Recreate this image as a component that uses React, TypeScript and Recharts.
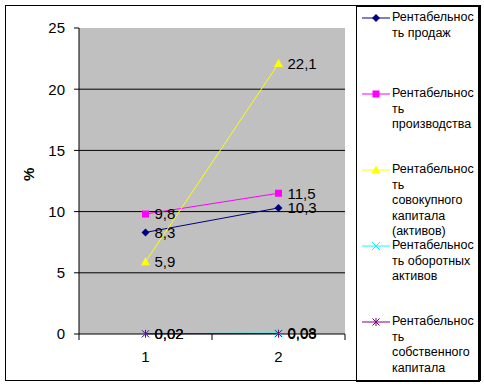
import { LineChart, Line, XAxis, YAxis, ReferenceLine, ReferenceArea, LabelList } from 'recharts';

const periods = [1, 2];
const salesProfit = [8.3, 10.3];
const productionProfit = [9.8, 11.5];
const totalCapitalProfit = [5.9, 22.1];
const currentAssetsProfit = [0.02, 0.08];
const equityProfit = [0.02, 0.03];
const yTicks = [0, 5, 10, 15, 20, 25];
const gridValues = [5, 10, 15, 20];

const FONT = '"Liberation Sans", Arial, sans-serif';

const data = periods.map((p, i) => ({
  period: p,
  sales: salesProfit[i],
  production: productionProfit[i],
  capital: totalCapitalProfit[i],
  current: currentAssetsProfit[i],
  equity: equityProfit[i],
}));

type Marker = 'diamond' | 'square' | 'triangle' | 'x' | 'star';

const SERIES: { key: string; color: string; marker: Marker; lines: string[] }[] = [
  { key: 'sales', color: '#000080', marker: 'diamond', lines: ['Рентабельнос', 'ть продаж'] },
  { key: 'production', color: '#ff00ff', marker: 'square', lines: ['Рентабельнос', 'ть', 'производства'] },
  { key: 'capital', color: '#ffff00', marker: 'triangle', lines: ['Рентабельнос', 'ть', 'совокупного', 'капитала', '(активов)'] },
  { key: 'current', color: '#00ffff', marker: 'x', lines: ['Рентабельнос', 'ть оборотных', 'активов'] },
  { key: 'equity', color: '#800080', marker: 'star', lines: ['Рентабельнос', 'ть', 'собственного', 'капитала'] },
];

function markerShape(m: Marker, cx: number, cy: number, color: string) {
  switch (m) {
    case 'diamond':
      return <polygon points={`${cx},${cy - 4} ${cx + 4},${cy} ${cx},${cy + 4} ${cx - 4},${cy}`} fill={color} />;
    case 'square':
      return <rect x={cx - 3.5} y={cy - 3.5} width={7} height={7} fill={color} />;
    case 'triangle':
      return <polygon points={`${cx},${cy - 4.5} ${cx + 4.5},${cy + 3.5} ${cx - 4.5},${cy + 3.5}`} fill={color} />;
    case 'x':
      return (
        <g stroke={color} strokeWidth={1}>
          <line x1={cx - 4} y1={cy - 4} x2={cx + 4} y2={cy + 4} />
          <line x1={cx - 4} y1={cy + 4} x2={cx + 4} y2={cy - 4} />
        </g>
      );
    default:
      return (
        <g stroke={color} strokeWidth={1}>
          <line x1={cx - 3.5} y1={cy - 3.5} x2={cx + 3.5} y2={cy + 3.5} />
          <line x1={cx - 3.5} y1={cy + 3.5} x2={cx + 3.5} y2={cy - 3.5} />
          <line x1={cx} y1={cy - 4} x2={cx} y2={cy + 4} />
        </g>
      );
  }
}

const fmt = (v: unknown) => String(v).replace('.', ',');

function XTick(props: any) {
  const { x, y, payload } = props;
  if (Number.isInteger(payload.value)) {
    return (
      <text x={x} y={y + 20} textAnchor="middle" fontSize={15} fontFamily={FONT} fill="#000">
        {payload.value}
      </text>
    );
  }
  return <line x1={x} y1={y - 8} x2={x} y2={y - 2} stroke="#000" />;
}

function LegendBox() {
  return (
    <div
      style={{
        position: 'absolute', left: 356, top: 6, width: 121, height: 373,
        border: '1px solid #000', borderRightWidth: 2, borderBottomWidth: 2, background: '#fff',
        fontFamily: FONT, fontSize: 12.5, color: '#000',
      }}
    >
      {SERIES.map((s, i) => (
        <div key={s.key} style={{ position: 'absolute', left: 0, top: 3 + i * 76, width: 121 }}>
          <svg width={30} height={16} style={{ position: 'absolute', left: 5, top: 0 }}>
            <line x1={0} y1={8} x2={28} y2={8} stroke={s.color} />
            {markerShape(s.marker, 14, 8, s.color)}
          </svg>
          <div style={{ position: 'absolute', left: 35, top: 0, lineHeight: '15.5px', whiteSpace: 'nowrap' }}>
            {s.lines.map((l, j) => (
              <div key={j}>{l}</div>
            ))}
          </div>
        </div>
      ))}
    </div>
  );
}

export default function App() {
  return (
    <div style={{ position: 'absolute', left: 0, top: 0, width: 484, height: 386, background: '#fff' }}>
      <div style={{ position: 'absolute', left: 5, top: 5, width: 474, height: 374, border: '1px solid #000' }} />
      <div style={{ position: 'absolute', left: 0, top: 0 }}>
        <LineChart width={484} height={386} data={data} margin={{ top: 28, right: 139, left: 29, bottom: 22 }}>
          <ReferenceArea x1={0.5} x2={2.5} y1={0} y2={25} fill="#c0c0c0" fillOpacity={1} stroke="none" ifOverflow="visible" />
          {gridValues.map((g) => (
            <ReferenceLine key={g} y={g} stroke="#000" />
          ))}
          <XAxis
            dataKey="period"
            type="number"
            domain={[0.5, 2.5]}
            ticks={[0.5, 1, 1.5, 2, 2.5]}
            interval={0}
            tickLine={false}
            axisLine={{ stroke: '#000' }}
            tick={<XTick />}
            height={30}
          />
          <YAxis
            domain={[0, 25]}
            ticks={yTicks}
            interval={0}
            width={50}
            tickSize={5}
            tickMargin={9}
            axisLine={{ stroke: '#000' }}
            tickLine={{ stroke: '#000' }}
            tick={{ fontSize: 15, fontFamily: FONT, fill: '#000' }}
            label={{ value: '%', angle: -90, position: 'insideLeft', offset: 0, fontSize: 15, fontWeight: 'bold', fontFamily: FONT, fill: '#000' }}
          />
          {SERIES.map((s) => (
            <Line
              key={s.key}
              dataKey={s.key}
              stroke={s.color}
              strokeWidth={1}
              isAnimationActive={false}
              dot={(p: any) => <g key={`${s.key}-${p.index}`}>{markerShape(s.marker, p.cx, p.cy, s.color)}</g>}
              activeDot={false}
            >
              <LabelList dataKey={s.key} position="right" offset={9} formatter={fmt} fontSize={15} fontFamily={FONT} fill="#000" />
            </Line>
          ))}
        </LineChart>
      </div>
      <LegendBox />
    </div>
  );
}
